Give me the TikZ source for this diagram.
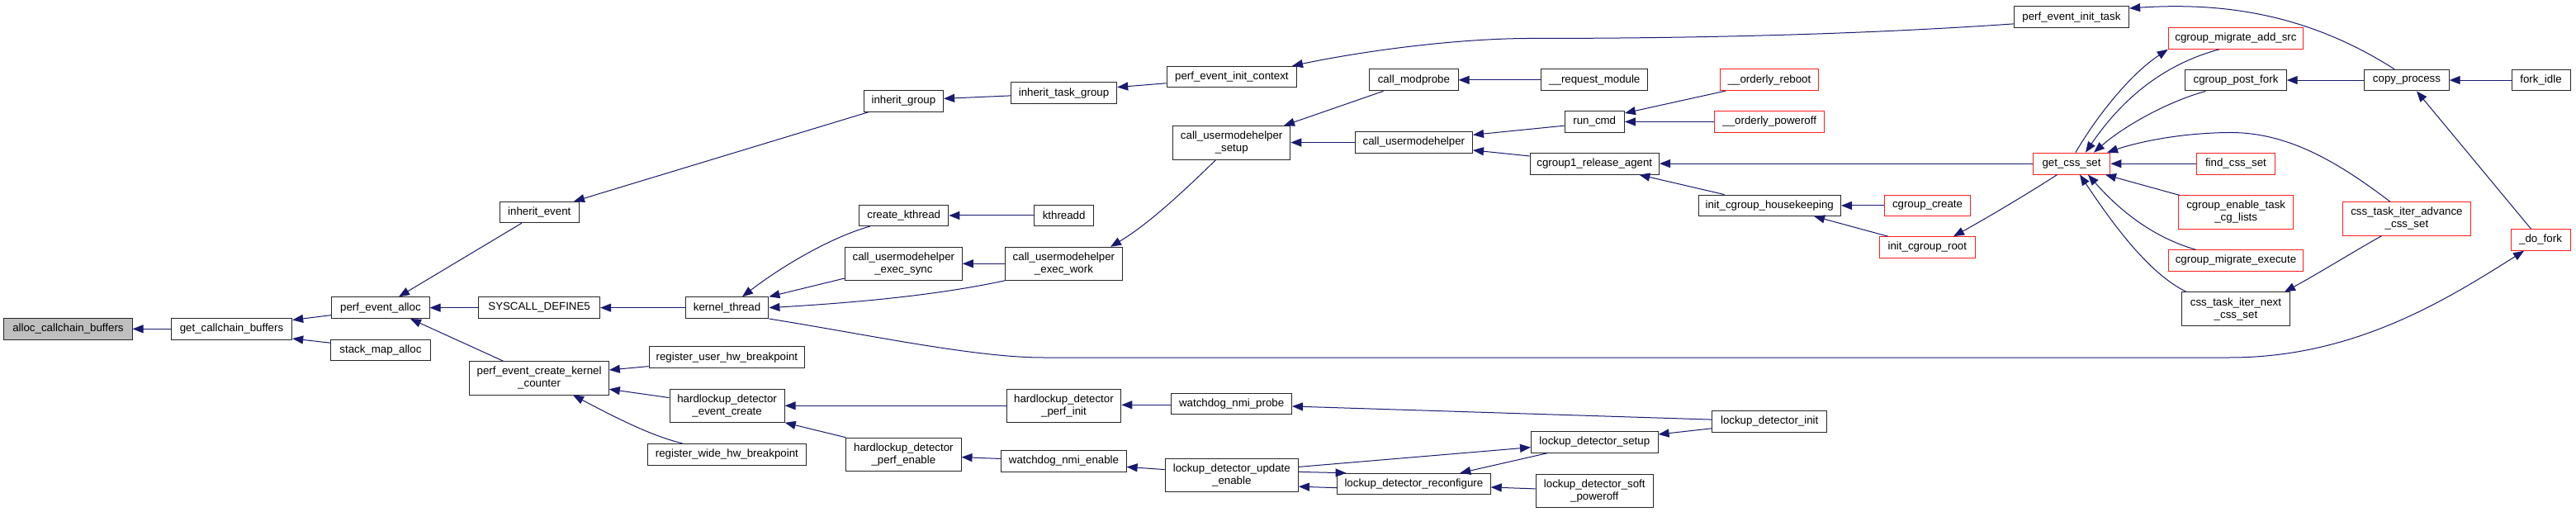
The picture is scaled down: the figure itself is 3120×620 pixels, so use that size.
\documentclass[tikz,border=0pt]{standalone}
\usepackage{fontspec}
\setmainfont{Liberation Sans}
\usetikzlibrary{arrows.meta}
\definecolor{navyc}{RGB}{25,25,112}
\definecolor{rootgray}{RGB}{191,191,191}
\definecolor{boxred}{RGB}{255,30,30}
\newcommand\lbl{\fontsize{13.3}{15}\selectfont}
\newcommand\mkbox[7]{\node[#2, minimum width={(#5-#3)*1pt}, minimum height={(#6-#4)*1pt}] (#1) at ({(#3+#5)/2},{(#4+#6)/2}) {#7};}
\tikzset{
  box/.style={draw=black!85, line width=1pt, fill=white, inner sep=0pt, font=\lbl, align=center, text=black},
  gbox/.style={box, fill=rootgray},
  rbox/.style={box, draw=boxred},
  edge/.style={draw=navyc, line width=1pt, -{Triangle[length=13pt,width=10pt]}}
}
\begin{document}
\begin{tikzpicture}[x=1pt,y=-1pt]
\fill[white] (0,0) rectangle (3120,620);
\useasboundingbox (0,0) rectangle (3120,620);
% nodes
\mkbox{N1}{gbox}{4.8}{385.5}{160.1}{411.2}{alloc\_callchain\_buffers}
\mkbox{N2}{box}{207.3}{385.5}{353.7}{411.2}{get\_callchain\_buffers}
\mkbox{N3}{box}{401.9}{359.8}{520.0}{385.5}{perf\_event\_alloc}
\mkbox{N4}{box}{400.5}{411.2}{521.4}{436.5}{stack\_map\_alloc}
\mkbox{N5}{box}{605.1}{244.4}{701.5}{269.7}{inherit\_event}
\mkbox{N6}{box}{579.6}{359.8}{726.6}{385.5}{SYSCALL\_DEFINE5}
\mkbox{N7}{box}{568.9}{437.7}{737.3}{478.0}{perf\_event\_create\_kernel\\\_counter}
\mkbox{N8}{box}{1046.2}{109.5}{1142.6}{135.2}{inherit\_group}
\mkbox{N9}{box}{830.3}{359.8}{930.9}{385.5}{kernel\_thread}
\mkbox{N10}{box}{786.2}{419.9}{974.6}{445.6}{register\_user\_hw\_breakpoint}
\mkbox{N11}{box}{811.0}{471.3}{950.2}{511.3}{hardlockup\_detector\\\_event\_create}
\mkbox{N12}{box}{784.8}{537.4}{976.0}{563.1}{register\_wide\_hw\_breakpoint}
\mkbox{N13}{box}{1224.3}{99.6}{1352.7}{125.7}{inherit\_task\_group}
\mkbox{N14}{box}{1040.7}{248.3}{1148.8}{273.6}{create\_kthread}
\mkbox{N15}{box}{1023.5}{299.3}{1165.3}{339.3}{call\_usermodehelper\\\_exec\_sync}
\mkbox{N16}{box}{1219.1}{471.3}{1357.8}{511.3}{hardlockup\_detector\\\_perf\_init}
\mkbox{N17}{box}{1024.8}{530.2}{1164.0}{570.2}{hardlockup\_detector\\\_perf\_enable}
\mkbox{N18}{box}{1413.0}{80.3}{1570.7}{106.0}{perf\_event\_init\_context}
\mkbox{N19}{box}{1252.5}{248.3}{1324.8}{273.6}{kthreadd}
\mkbox{N20}{box}{1217.7}{299.3}{1359.2}{339.3}{call\_usermodehelper\\\_exec\_work}
\mkbox{N21}{box}{1212.9}{545.7}{1364.1}{571.4}{watchdog\_nmi\_enable}
\mkbox{N22}{box}{1420.6}{152.6}{1562.8}{193.4}{call\_usermodehelper\\\_setup}
\mkbox{N23}{box}{1418.8}{476.1}{1564.5}{501.8}{watchdog\_nmi\_probe}
\mkbox{N24}{box}{1411.2}{555.5}{1572.4}{595.5}{lockup\_detector\_update\\\_enable}
\mkbox{N25}{box}{1658.8}{83.8}{1766.0}{109.9}{call\_modprobe}
\mkbox{N26}{box}{1641.3}{159.7}{1783.5}{185.4}{call\_usermodehelper}
\mkbox{N27}{box}{1619.6}{573.3}{1805.2}{598.6}{lockup\_detector\_reconfigure}
\mkbox{N28}{box}{1866.9}{83.8}{1995.7}{109.9}{\_\_request\_module}
\mkbox{N29}{box}{1895.1}{134.8}{1967.4}{160.1}{run\_cmd}
\mkbox{N30}{box}{1853.1}{185.4}{2009.5}{211.1}{cgroup1\_release\_agent}
\mkbox{N31}{box}{1854.5}{522.7}{2008.1}{548.0}{lockup\_detector\_setup}
\mkbox{N32}{box}{1860.0}{574.1}{2002.5}{614.1}{lockup\_detector\_soft\\\_poweroff}
\mkbox{N33}{box}{2057.0}{236.1}{2229.5}{261.4}{init\_cgroup\_housekeeping}
\mkbox{N34}{box}{2073.8}{497.4}{2212.6}{523.1}{lockup\_detector\_init}
\mkbox{N35}{box}{2439.2}{7.9}{2578.6}{34.0}{perf\_event\_init\_task}
\mkbox{N36}{box}{2646.8}{84.2}{2769.2}{109.9}{cgroup\_post\_fork}
\mkbox{N37}{box}{2863.7}{84.2}{2966.2}{109.9}{copy\_process}
\mkbox{N38}{box}{3042.0}{84.2}{3113.0}{109.9}{fork\_idle}
\mkbox{N39}{box}{2642.1}{353.9}{2773.8}{394.2}{css\_task\_iter\_next\\\_css\_set}
\mkbox{R1}{rbox}{2083.4}{83.8}{2202.6}{109.5}{\_\_orderly\_reboot}
\mkbox{R2}{rbox}{2076.9}{134.8}{2209.5}{160.1}{\_\_orderly\_poweroff}
\mkbox{R3}{rbox}{2462.2}{185.1}{2555.9}{211.1}{get\_css\_set}
\mkbox{R4}{rbox}{2282.5}{236.1}{2386.5}{261.8}{cgroup\_create}
\mkbox{R5}{rbox}{2276.6}{286.7}{2392.0}{312.4}{init\_cgroup\_root}
\mkbox{R6}{rbox}{2626.2}{33.6}{2789.7}{59.3}{cgroup\_migrate\_add\_src}
\mkbox{R7}{rbox}{2660.0}{185.4}{2755.9}{211.1}{find\_css\_set}
\mkbox{R8}{rbox}{2638.8}{236.9}{2777.5}{277.2}{cgroup\_enable\_task\\\_cg\_lists}
\mkbox{R9}{rbox}{2837.2}{244.8}{2992.7}{285.1}{css\_task\_iter\_advance\\\_css\_set}
\mkbox{R10}{rbox}{3041.0}{277.6}{3113.0}{303.3}{\_do\_fork}
\mkbox{R11}{rbox}{2626.2}{302.9}{2789.7}{328.2}{cgroup\_migrate\_execute}
% edges
\draw[edge] (N2.west) -- (N1.east);
\draw[edge] (N3.west |- 0,381.6) -- (N2.east |- 0,387.5);
\draw[edge] (N4.west |- 0,415.2) -- (N2.east |- 0,410);
\draw[edge] (N5.south -| 631.9,0) -- (N3.north -| 483,0);
\draw[edge] (N6.west) -- (N3.east);
\draw[edge] (N7.north -| 609.5,0) -- (N3.south -| 497,0);
\draw[edge] (N8.south -| 1052,0) -- (N5.north -| 695,0);
\draw[edge] (N13.west |- 0,115.9) -- (N8.east |- 0,119.4);
\draw[edge] (N18.west |- 0,100.8) -- (N13.east |- 0,105.6);
\draw[edge] (N35.west |- 0,28.9) .. controls (2250,42) and (2050,46.5) .. (1850,46.5) .. controls (1760,47) and (1650,62) .. (N18.north -| 1565,0);
\draw[edge] (N37.north -| 2900,0) .. controls (2800,20) and (2700,2) .. (N35.east |- 0,10);
\draw[edge] (N9.west) -- (N6.east);
\draw[edge] (N14.south -| 1053.8,0) .. controls (1010,286) and (950,320) .. (N9.north -| 899,0);
\draw[edge] (N15.west |- 0,337) -- (N9.north east);
\draw[edge] (N20.south west) .. controls (1160,352) and (1080,364) .. (N9.east);
\draw[edge] (N9.south east) .. controls (1050,405) and (1180,433) .. (1264,433) -- (2700,433) .. controls (2850,433) and (2960,365) .. (R10.south -| 3057,0);
\draw[edge] (N22.south -| 1472.3,0) .. controls (1430,235) and (1390,272) .. (N20.north -| 1345,0);
\draw[edge] (N19.west) -- (N14.east);
\draw[edge] (N20.west) -- (N15.east);
\draw[edge] (N25.south -| 1675.4,0) -- (N22.north -| 1555,0);
\draw[edge] (N26.west) -- (N22.east |- N26.west);
\draw[edge] (N28.west) -- (N25.east);
\draw[edge] (N29.west |- 0,152.2) -- (N26.east |- 0,163.3);
\draw[edge] (N30.west |- 0,189) -- (N26.east |- 0,181.9);
\draw[edge] (R1.south -| 2090.3,0) -- (N29.east |- 0,137);
\draw[edge] (R2.west) -- (N29.east |- R2.west);
\draw[edge] (R3.west) -- (N30.east |- R3.west);
\draw[edge] (N33.north -| 2088.6,0) -- (N30.south -| 1985.3,0);
\draw[edge] (R4.west) -- (N33.east |- R4.west);
\draw[edge] (R5.north -| 2286.6,0) -- (N33.south -| 2197.1,0);
\draw[edge] (R3.south -| 2491.5,0) .. controls (2460,232) and (2410,262) .. (R5.north -| 2366,0);
\draw[edge] (R3.north -| 2513.9,0) .. controls (2540,140) and (2580,90) .. (R6.south west);
\draw[edge] (R6.south -| 2687.9,0) .. controls (2620,78) and (2570,120) .. (R3.north -| 2526,0);
\draw[edge] (N36.south -| 2671.3,0) .. controls (2620,125) and (2570,155) .. (R3.north -| 2536,0);
\draw[edge] (R9.north -| 2895,0) .. controls (2830,195) and (2770,160) .. (2700,160.5) .. controls (2640,161) and (2590,172) .. (R3.north -| 2552,0);
\draw[edge] (R7.west) -- (R3.east |- R7.west);
\draw[edge] (R8.north -| 2639.8,0) -- (R3.south -| 2550,0);
\draw[edge] (R11.north -| 2659.7,0) .. controls (2610,288) and (2570,258) .. (R3.south -| 2529,0);
\draw[edge] (N39.north -| 2648.1,0) .. controls (2600,330) and (2555,265) .. (R3.south -| 2519,0);
\draw[edge] (R9.south -| 2884.6,0) .. controls (2850,305) and (2810,330) .. (N39.north -| 2767,0);
\draw[edge] (R10.north -| 3065.4,0) -- (N37.south -| 2927,0);
\draw[edge] (N38.west) -- (N37.east |- N38.west);
\draw[edge] (N37.west) -- (N36.east |- N37.west);
\draw[edge] (N11.west |- 0,481.6) -- (N7.east |- 0,471.3);
\draw[edge] (N10.west |- 0,443.6) -- (N7.east |- 0,448);
\draw[edge] (N12.north -| 826.5,0) .. controls (790,528) and (750,508) .. (N7.south -| 694,0);
\draw[edge] (N16.west) -- (N11.east |- N16.west);
\draw[edge] (N17.north west) -- (N11.south east);
\draw[edge] (N23.west |- 0,490.3) -- (N16.east |- 0,490.3);
\draw[edge] (N21.west |- 0,555.5) -- (N17.east |- 0,553.6);
\draw[edge] (N24.west |- 0,568.6) -- (N21.east |- 0,565.4);
\draw[edge] (N34.west |- 0,508.1) -- (N23.east |- 0,492);
\draw[edge] (N34.west |- 0,518.8) -- (N31.east |- 0,526);
\draw[edge] (N24.east |- 0,565.4) -- (N31.west |- 0,541.7);
\draw[edge] (N31.south -| 1875,0) -- (N27.north -| 1768.3,0);
\draw[edge] (N24.east |- 0,571.4) -- (N27.north -| 1630.6,0);
\draw[edge] (N27.west |- 0,590.7) -- (N24.east |- 0,589.2);
\draw[edge] (N32.west |- 0,591.9) -- (N27.east |- 0,590);
\end{tikzpicture}
\end{document}
